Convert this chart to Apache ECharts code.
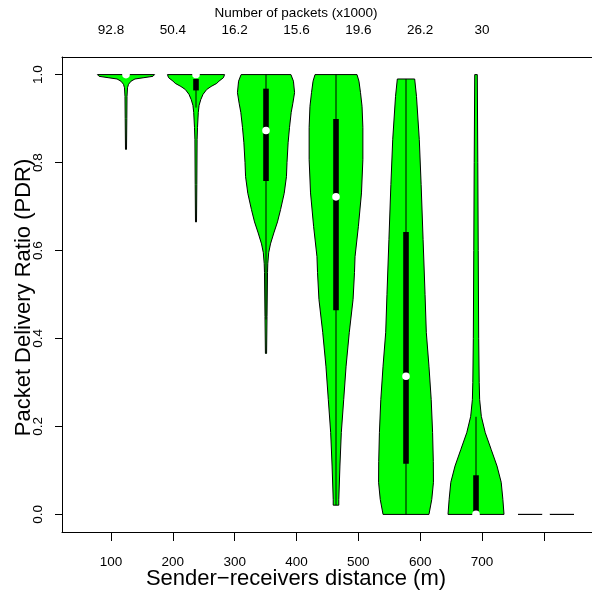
<!DOCTYPE html>
<html>
<head>
<meta charset="utf-8">
<title>PDR violin plot</title>
<script src="https://cdn.jsdelivr.net/npm/echarts@6.0.0/dist/echarts.min.js"></script>
<style>
    html, body { margin: 0; padding: 0; background: #fff; }
    #pdrviolin { width: 592px; height: 595px; }
</style>
</head>
<body>
<div id="pdrviolin"></div>
<script>
// distances on the bottom axis, packet counts on the top axis
var distances = [100, 200, 300, 400, 500, 600, 700];
var packets = ['92.8', '50.4', '16.2', '15.6', '19.6', '26.2', '30'];
var yTicks = [0, 0.2, 0.4, 0.6, 0.8, 1.0];

// violin outlines: PDR level and relative density (1 = widest)
var violinLevels = [
    [1.0, 0.996, 0.993, 0.99, 0.985, 0.978, 0.97, 0.95, 0.9, 0.83],
    [1.0, 0.993, 0.985, 0.98, 0.973, 0.966, 0.955, 0.943, 0.93, 0.914, 0.88, 0.852, 0.75, 0.665],
    [1.0, 0.985, 0.959, 0.935, 0.914, 0.88, 0.845, 0.8, 0.768, 0.73, 0.693, 0.665, 0.64, 0.615, 0.595, 0.57, 0.55, 0.45, 0.366],
    [1.0, 0.985, 0.959, 0.928, 0.88, 0.807, 0.731, 0.655, 0.586, 0.55, 0.489, 0.414, 0.337, 0.261, 0.186, 0.11, 0.034, 0.021],
    [0.99, 0.95, 0.852, 0.75, 0.625, 0.5, 0.414, 0.337, 0.261, 0.186, 0.12, 0.073, 0.034, 0.0],
    [1.0, 0.8, 0.6, 0.4, 0.3, 0.261, 0.223, 0.186, 0.148, 0.11, 0.073, 0.034, 0.0],
    [0.0, 0.0]
];
var violinDensity = [
    [1.02, 0.96, 0.64, 0.32, 0.18, 0.09, 0.054, 0.036, 0.029, 0.018],
    [1.02, 0.98, 0.82, 0.74, 0.54, 0.38, 0.25, 0.17, 0.11, 0.082, 0.054, 0.039, 0.029, 0.018],
    [0.89, 0.98, 1.02, 0.96, 0.9, 0.84, 0.79, 0.75, 0.73, 0.65, 0.52, 0.41, 0.28, 0.16, 0.096, 0.064, 0.054, 0.036, 0.021],
    [0.75, 0.82, 0.875, 0.93, 0.96, 0.96, 0.91, 0.8, 0.68, 0.66, 0.61, 0.475, 0.36, 0.275, 0.19, 0.14, 0.1, 0.1],
    [0.31, 0.375, 0.475, 0.54, 0.61, 0.68, 0.725, 0.82, 0.9, 0.95, 0.975, 0.98, 0.92, 0.82],
    [0.046, 0.064, 0.079, 0.096, 0.114, 0.13, 0.19, 0.33, 0.54, 0.75, 0.9, 0.96, 1.0],
    [1.0, 1.0]
];

// box plot statistics per distance
var q1 = [1.0, 0.964, 0.758, 0.464, 0.115, 0.0, 0.0];
var medians = [1.0, 1.0, 0.873, 0.722, 0.314, 0.0, 0.0];
var q3 = [1.0, 0.99, 0.968, 0.899, 0.642, 0.089, 0.0];
var whiskerLow = [1.0, 0.925, 0.443, 0.021, 0.0, 0.0, 0.0];
var whiskerHigh = [1.0, 1.0, 1.0, 1.0, 0.99, 0.222, 0.0];

var FONT = '"Liberation Sans", Arial, Helvetica, sans-serif';
var WEX = 0.4;   // half width of the widest violin, in slots

var dom = document.getElementById('pdrviolin');
var myChart = echarts.init(dom);

function renderViolin(params, api) {
    var i = params.dataIndex;
    var cx = api.value(0);
    var lv = violinLevels[i];
    var dn = violinDensity[i];
    var pts = [];
    var k;
    for (k = 0; k < lv.length; k++) {
        pts.push(api.coord([cx - dn[k] * WEX, lv[k]]));
    }
    for (k = lv.length - 1; k >= 0; k--) {
        pts.push(api.coord([cx + dn[k] * WEX, lv[k]]));
    }
    var children = [{
        type: 'polygon',
        shape: { points: pts },
        style: { fill: '#00ff00', stroke: '#000', lineWidth: 1 }
    }];

    // whisker line
    var wLo = api.coord([cx, whiskerLow[i]]);
    var wHi = api.coord([cx, whiskerHigh[i]]);
    if (wLo[1] - wHi[1] > 0.5) {
        children.push({
            type: 'line',
            shape: { x1: wLo[0], y1: wLo[1], x2: wHi[0], y2: wHi[1] },
            style: { stroke: '#000', lineWidth: 1 }
        });
    }

    // box from q1 to q3
    var bLo = api.coord([cx, q1[i]]);
    var bHi = api.coord([cx, q3[i]]);
    if (bLo[1] - bHi[1] > 0.5) {
        children.push({
            type: 'rect',
            shape: { x: bLo[0] - 2.8, y: bHi[1], width: 5.6, height: bLo[1] - bHi[1] },
            style: { fill: '#000' }
        });
    }

    // median
    var m = api.coord([cx, api.value(1)]);
    children.push({
        type: 'circle',
        shape: { cx: m[0], cy: m[1], r: 3.8 },
        style: { fill: '#fff' }
    });

    return { type: 'group', children: children };
}

option = null;
option = {
    backgroundColor: '#fff',
    animation: false,
    grid: {
        left: 62,
        right: 0,
        top: 57,
        bottom: 63
    },
    xAxis: [
        {
            // bottom axis, distance
            type: 'value',
            position: 'bottom',
            min: 20.75,
            max: 877.9,
            axisLine: { show: true, onZero: false, lineStyle: { color: '#000', width: 1 } },
            axisTick: {
                show: true,
                length: 9,
                customValues: [100, 200, 300, 400, 500, 600, 700, 800],
                lineStyle: { color: '#000' }
            },
            axisLabel: {
                customValues: distances,
                margin: 23,
                fontSize: 13.5,
                color: '#000',
                fontFamily: FONT
            },
            splitLine: { show: false }
        },
        {
            // top axis, number of packets
            type: 'value',
            position: 'top',
            min: 20.75,
            max: 877.9,
            axisLine: { show: true, onZero: false, lineStyle: { color: '#000', width: 1 } },
            axisTick: { show: false },
            axisLabel: {
                customValues: distances,
                margin: 20,
                fontSize: 13.5,
                color: '#000',
                fontFamily: FONT,
                formatter: function (v) {
                    return packets[distances.indexOf(v)];
                }
            },
            splitLine: { show: false }
        },
        {
            // slots for the violins
            type: 'value',
            show: false,
            min: 0.0857,
            max: 7.657
        }
    ],
    yAxis: {
        type: 'value',
        min: -0.04,
        max: 1.04,
        axisLine: { show: true, onZero: false, lineStyle: { color: '#000', width: 1 } },
        axisTick: {
            show: true,
            length: 7,
            customValues: yTicks,
            lineStyle: { color: '#000' }
        },
        axisLabel: {
            customValues: yTicks,
            rotate: 90,
            margin: 17,
            fontSize: 13.5,
            color: '#000',
            fontFamily: FONT,
            formatter: function (v) { return v.toFixed(1); }
        },
        splitLine: { show: false }
    },
    graphic: [
        {
            type: 'text',
            left: 'center',
            top: 6,
            style: { text: 'Number of packets (x1000)', fill: '#000', font: '13.5px ' + FONT }
        },
        {
            type: 'text',
            left: 'center',
            top: 568,
            style: { text: 'Sender\u2212receivers distance (m)', fill: '#000', font: '22px ' + FONT }
        },
        {
            type: 'text',
            left: 13,
            top: 'middle',
            rotation: Math.PI / 2,
            style: { text: 'Packet Delivery Ratio (PDR)', fill: '#000', font: '22px ' + FONT }
        }
    ],
    series: [
        {
            name: 'PDR',
            type: 'custom',
            xAxisIndex: 2,
            yAxisIndex: 0,
            renderItem: renderViolin,
            encode: { x: 0, y: 1 },
            data: medians.map(function (m, i) { return [i + 1, m]; })
        }
    ]
};
if (option && typeof option === "object") {
    myChart.setOption(option, true);
}
</script>
</body>
</html>
